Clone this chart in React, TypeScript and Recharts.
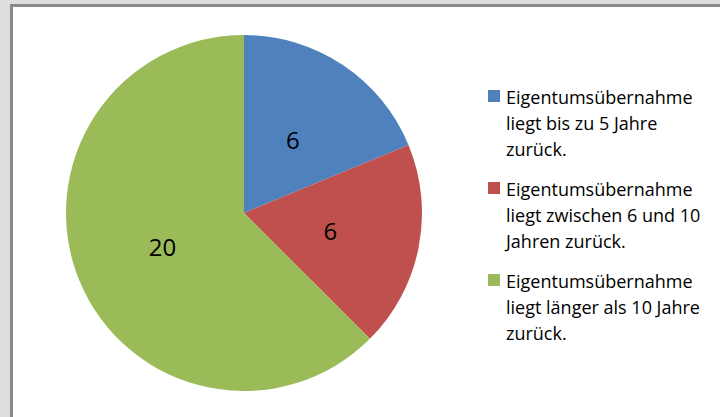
import React from "react";
import { PieChart, Pie, Cell, Legend } from "recharts";

const categories = [
  "Eigentumsübernahme liegt bis zu 5 Jahre zurück.",
  "Eigentumsübernahme liegt zwischen 6 und 10 Jahren zurück.",
  "Eigentumsübernahme liegt länger als 10 Jahre zurück.",
];
const legendLines = [
  ["Eigentumsübernahme", "liegt bis zu 5 Jahre", "zurück."],
  ["Eigentumsübernahme", "liegt zwischen 6 und 10", "Jahren zurück."],
  ["Eigentumsübernahme", "liegt länger als 10 Jahre", "zurück."],
];
const values = [6, 6, 20];
const colors = ["#4F81BD", "#C0504D", "#9BBB59"];

const data = categories.map((name, i) => ({ name, value: values[i] }));

const FONT = "'Open Sans', sans-serif";

const RADIAN = Math.PI / 180;
const renderLabel = (props: any) => {
  const { cx, cy, midAngle, outerRadius, value } = props;
  const r = outerRadius * 0.495;
  const x = cx + r * Math.cos(-midAngle * RADIAN);
  const y = cy + r * Math.sin(-midAngle * RADIAN);
  return (
    <text
      x={x}
      y={y}
      fill="#000"
      fontFamily={FONT}
      fontSize={24}
      textAnchor="middle"
      dominantBaseline="central"
    >
      {value}
    </text>
  );
};

const LegendContent = () => (
  <div style={{ fontFamily: FONT, fontSize: 18, color: "#000" }}>
    {legendLines.map((lines, i) => (
      <div
        key={i}
        style={{ position: "relative", paddingLeft: 18, marginBottom: i < 2 ? 14 : 0 }}
      >
        <div
          style={{
            position: "absolute",
            left: 0,
            top: 6,
            width: 12,
            height: 12,
            background: colors[i],
          }}
        />
        {lines.map((l, j) => (
          <div key={j} style={{ lineHeight: "26px", whiteSpace: "nowrap" }}>
            {l}
          </div>
        ))}
      </div>
    ))}
  </div>
);

export default function App() {
  return (
    <div
      style={{
        position: "absolute",
        left: 0,
        top: 0,
        width: 720,
        height: 417,
        background: "#dedede",
        overflow: "hidden",
      }}
    >
      <div
        style={{
          position: "absolute",
          left: 10,
          top: 4,
          width: 720,
          height: 420,
          background: "#fff",
          borderLeft: "3px solid #8a8a8a",
          borderTop: "3px solid #8a8a8a",
        }}
      />
      <div style={{ position: "absolute", left: 0, top: 0 }}>
        <PieChart width={720} height={417} margin={{ top: 0, right: 0, bottom: 0, left: 0 }}>
          <Pie
            data={data}
            dataKey="value"
            nameKey="name"
            cx={244}
            cy={213}
            outerRadius={178}
            startAngle={90}
            endAngle={-270}
            stroke="none"
            label={renderLabel}
            labelLine={false}
            isAnimationActive={false}
          >
            {data.map((d, i) => (
              <Cell key={d.name} fill={colors[i]} />
            ))}
          </Pie>
          <Legend
            content={<LegendContent />}
            wrapperStyle={{ position: "absolute", left: 488, top: 84, width: 232 }}
          />
        </PieChart>
      </div>
    </div>
  );
}
